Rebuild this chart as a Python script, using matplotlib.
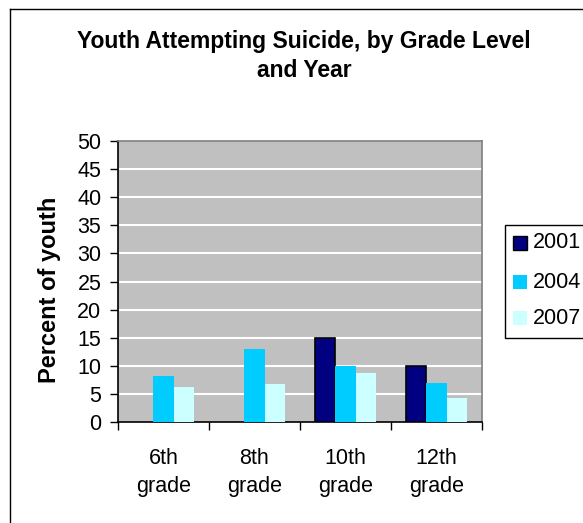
import numpy as np
import matplotlib
matplotlib.use("Agg")
import matplotlib.pyplot as plt
from matplotlib.patches import Rectangle
from matplotlib.lines import Line2D

plt.rcParams['font.family'] = ['Liberation Sans', 'DejaVu Sans']

categories = ["6th\ngrade", "8th\ngrade", "10th\ngrade", "12th\ngrade"]
years = ["2001", "2004", "2007"]
values_2001 = [np.nan, np.nan, 15.0, 10.0]
values_2004 = [8.1, 13.0, 10.0, 7.0]
values_2007 = [6.3, 6.7, 8.8, 4.2]
colors = ["#000080", "#00CCFF", "#CCFFFF"]
y_ticks = [0, 5, 10, 15, 20, 25, 30, 35, 40, 45, 50]

W, H = 583, 523
fig = plt.figure(figsize=(W / 100, H / 100), dpi=100)
fig.patch.set_facecolor("white")

# outer chart frame (left and top edges visible)
fig.add_artist(Line2D([10 / W, 10 / W], [0, 1 - 9 / H], color="black", lw=1.0,
                      transform=fig.transFigure))
fig.add_artist(Line2D([10 / W, 1], [1 - 9 / H, 1 - 9 / H], color="black", lw=1.0,
                      transform=fig.transFigure))

left, right, top, bottom = 118, 482, 141, 422
ax = fig.add_axes([left / W, 1 - bottom / H, (right - left) / W, (bottom - top) / H])
ax.set_facecolor("#C0C0C0")

x = np.arange(len(categories))
bw = 1 / 4.5
series = [values_2001, values_2004, values_2007]
for i, (vals, col, yr) in enumerate(zip(series, colors, years)):
    ec = "black" if i == 0 else "none"
    ax.bar(x + (i - 1) * bw, vals, width=bw, color=col, edgecolor=ec,
           linewidth=1.2 if i == 0 else 0, label=yr, zorder=3)

ax.set_xlim(-0.5, len(categories) - 0.5)
ax.set_ylim(0, 50)
ax.set_yticks(y_ticks)
ax.set_yticklabels([str(t) for t in y_ticks], fontsize=15.5)
for t in y_ticks[1:-1]:
    ax.axhline(t, color="white", lw=1.5, zorder=1)

ax.set_xticks(x)
ax.set_xticklabels(categories, fontsize=15.5, linespacing=1.4)
ax.set_xticks(np.arange(-0.5, len(categories)), minor=True)
ax.tick_params(axis="x", which="major", length=0, pad=19)
ax.tick_params(axis="x", which="minor", length=6, width=1, color="black", direction="out")
ax.tick_params(axis="y", length=6, width=1, color="black", direction="out", pad=6)

for s in ["top", "right"]:
    ax.spines[s].set_color("#808080")
    ax.spines[s].set_linewidth(1.2)
for s in ["left", "bottom"]:
    ax.spines[s].set_color("black")
    ax.spines[s].set_linewidth(1.2)

ax.set_ylabel("Percent of youth", fontsize=17, fontweight="bold")
ax.yaxis.set_label_coords(-(118 - 61) / (right - left), 0.47)

fig.text(304 / W, 1 - 56 / H, "Youth Attempting Suicide, by Grade Level\nand Year",
         ha="center", va="center", fontsize=16.5, fontweight="bold", linespacing=1.3)

# legend box
fig.add_artist(Rectangle((505 / W, 1 - 338 / H), 90 / W, 113 / H, transform=fig.transFigure,
                         facecolor="white", edgecolor="black", lw=1.0))
leg_y = [243, 282, 318]
for yr, col, yy in zip(years, colors, leg_y):
    fig.add_artist(Rectangle((513 / W, 1 - (yy + 7) / H), 14 / W, 14 / H,
                             transform=fig.transFigure, facecolor=col,
                             edgecolor="black" if yr == "2001" else "none", lw=1.0))
    fig.text(533 / W, 1 - yy / H, yr, ha="left", va="center", fontsize=15.5)

fig.savefig("out.png", dpi=100)
